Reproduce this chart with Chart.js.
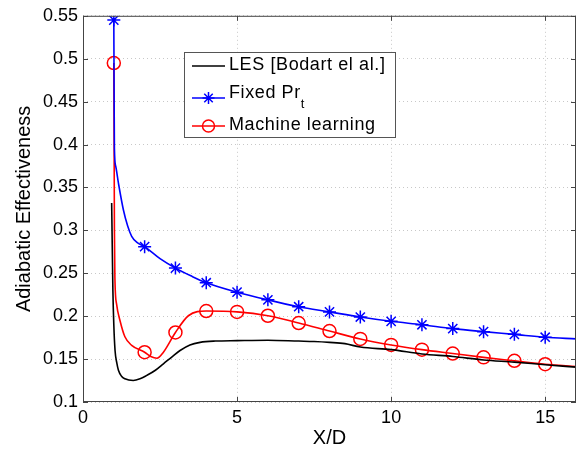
<!DOCTYPE html>
<html>
<head>
<meta charset="utf-8">
<script src="https://cdn.jsdelivr.net/npm/chart.js@4.4.0/dist/chart.umd.min.js"></script>
<style>
  html, body { margin: 0; padding: 0; background: #fff; }
</style>
</head>
<body>
<canvas id="chart" width="584" height="450"></canvas>
<script>
// LES reference curve
const lesX = [0.93, 0.95, 0.97, 1.0, 1.04, 1.1, 1.15, 1.25, 1.36, 1.63, 1.85, 2.07, 2.35, 2.61, 2.9, 3.15, 3.47, 3.8, 4.3, 5, 6, 7, 7.5, 8, 8.5, 9, 10, 11, 12, 13, 14, 15, 16];
const lesY = [0.332, 0.28, 0.23, 0.19, 0.16, 0.145, 0.137, 0.13, 0.127, 0.125, 0.127, 0.131, 0.137, 0.1445, 0.153, 0.16, 0.1665, 0.1695, 0.171, 0.1715, 0.172, 0.171, 0.1705, 0.1695, 0.168, 0.164, 0.161, 0.156, 0.153, 0.149, 0.1465, 0.1434, 0.1406];

// fixed turbulent Prandtl number
const fixX = [1, 1.01, 1.02, 1.06, 1.15, 1.31, 1.45, 1.58, 1.75, 2, 2.5, 3, 3.5, 4, 5, 6, 7, 8, 9, 10, 11, 12, 13, 14, 15, 16];
const fixY = [0.545, 0.46, 0.395, 0.375, 0.355, 0.324, 0.305, 0.293, 0.286, 0.281, 0.267, 0.256, 0.247, 0.239, 0.228, 0.219, 0.211, 0.205, 0.199, 0.194, 0.190, 0.1855, 0.182, 0.1788, 0.1755, 0.1735];

// machine learning model
const mlX = [1, 1.01, 1.02, 1.035, 1.09, 1.2, 1.36, 1.58, 2, 2.2, 2.4, 2.61, 3, 3.42, 4, 5, 6, 7, 8, 9, 10, 11, 12, 13, 14, 15, 16];
const mlY = [0.495, 0.40, 0.30, 0.245, 0.214, 0.195, 0.176, 0.166, 0.158, 0.153, 0.151, 0.158, 0.181, 0.2005, 0.206, 0.205, 0.2005, 0.192, 0.1827, 0.1735, 0.1665, 0.161, 0.1565, 0.152, 0.148, 0.144, 0.1414];

const yTicks = [0.1, 0.15, 0.2, 0.25, 0.3, 0.35, 0.4, 0.45, 0.5, 0.55];
const xTicks = [0, 5, 10, 15];

const FONT = "'Liberation Sans', Arial, Helvetica, sans-serif";

function pts(xs, ys) {
    return xs.map((x, i) => ({ x: x, y: ys[i] }));
}

function markerRadius(r) {
    return (ctx) => {
        const p = ctx.raw;
        return (p && Number.isInteger(p.x) && p.x >= 1 && p.x <= 15) ? r : 0;
    };
}

// box, inward ticks and the legend, drawn like the matlab figure
const figurePlugin = {
    id: 'figure',
    afterDraw(chart) {
        const ctx = chart.ctx;
        const a = chart.chartArea;
        const xs = chart.scales.x, ys = chart.scales.y;
        ctx.save();
        ctx.strokeStyle = '#444';
        ctx.lineWidth = 1;
        ctx.strokeRect(a.left + 0.5, a.top + 0.5, a.right - a.left - 1, a.bottom - a.top - 1);
        ctx.beginPath();
        xTicks.forEach(v => {
            const px = Math.round(xs.getPixelForValue(v)) + 0.5;
            ctx.moveTo(px, a.bottom); ctx.lineTo(px, a.bottom - 5);
            ctx.moveTo(px, a.top); ctx.lineTo(px, a.top + 5);
        });
        yTicks.forEach(v => {
            const py = Math.round(ys.getPixelForValue(v)) + 0.5;
            ctx.moveTo(a.left, py); ctx.lineTo(a.left + 5, py);
            ctx.moveTo(a.right, py); ctx.lineTo(a.right - 5, py);
        });
        ctx.stroke();

        // legend
        const bx = 184, by = 52, bw = 211, bh = 85;
        ctx.fillStyle = '#fff';
        ctx.fillRect(bx, by, bw, bh);
        ctx.strokeStyle = '#555';
        ctx.strokeRect(bx + 0.5, by + 0.5, bw, bh);
        const rows = [66, 98, 126];
        chart.data.datasets.forEach((ds, i) => {
            const y = rows[i];
            ctx.strokeStyle = ds.borderColor;
            ctx.lineWidth = 1.5;
            ctx.beginPath();
            ctx.moveTo(192, y); ctx.lineTo(225, y);
            ctx.stroke();
            if (ds.pointStyle !== false) {
                ctx.fillStyle = 'rgba(0,0,0,0)';
                Chart.helpers.drawPoint(ctx, {
                    pointStyle: ds.pointStyle, radius: 6, borderWidth: 1.5
                }, 208.5, y);
            }
            ctx.fillStyle = '#000';
            ctx.font = '18px ' + FONT;
            ctx.letterSpacing = '0.6px';
            ctx.textBaseline = 'middle';
            ctx.textAlign = 'left';
            if (i === 1) {
                ctx.fillText('Fixed Pr', 229, 93);
                const w = ctx.measureText('Fixed Pr').width;
                ctx.font = '13px ' + FONT;
                ctx.fillText('t', 229 + w, 104);
            } else {
                ctx.fillText(ds.label, 229, y - 1);
            }
        });
        ctx.restore();
    }
};

new Chart(document.getElementById('chart'), {
    type: 'line',
    data: {
        datasets: [
            {
                label: 'LES [Bodart el al.]',
                data: pts(lesX, lesY),
                borderColor: '#000',
                borderWidth: 1.6,
                pointRadius: 0,
                pointStyle: false,
                cubicInterpolationMode: 'monotone'
            },
            {
                label: 'Fixed Pr_t',
                data: pts(fixX, fixY),
                borderColor: '#0000ff',
                backgroundColor: 'transparent',
                borderWidth: 1.6,
                pointStyle: 'star',
                pointRadius: markerRadius(6.5),
                pointBorderWidth: 1.5,
                pointBorderColor: '#0000ff',
                cubicInterpolationMode: 'monotone'
            },
            {
                label: 'Machine learning',
                data: pts(mlX, mlY),
                borderColor: '#ff0000',
                backgroundColor: 'transparent',
                borderWidth: 1.6,
                pointStyle: 'circle',
                pointRadius: markerRadius(6.5),
                pointBorderWidth: 1.5,
                pointBorderColor: '#ff0000',
                pointBackgroundColor: 'transparent',
                cubicInterpolationMode: 'monotone'
            }
        ]
    },
    options: {
        responsive: false,
        animation: false,
        events: [],
        layout: { padding: { top: 13, right: 7, left: 0, bottom: 0 } },
        plugins: {
            legend: { display: false },
            tooltip: { enabled: false }
        },
        scales: {
            x: {
                type: 'linear',
                min: 0,
                max: 16,
                afterBuildTicks: (s) => { s.ticks = xTicks.map(v => ({ value: v })); },
                afterFit: (s) => { s.height = 48; },
                ticks: {
                    color: '#000',
                    font: { family: FONT, size: 18 },
                    padding: 5,
                    maxRotation: 0
                },
                grid: { color: '#c8c8c8', lineWidth: 1, drawTicks: false },
                border: { display: false, dash: [1, 3] },
                title: {
                    display: true,
                    text: 'X/D',
                    color: '#000',
                    font: { family: FONT, size: 20 },
                    padding: { top: 0, bottom: 0 }
                }
            },
            y: {
                type: 'linear',
                min: 0.1,
                max: 0.55,
                afterBuildTicks: (s) => { s.ticks = yTicks.map(v => ({ value: v })); },
                afterFit: (s) => { s.width = 83; },
                ticks: {
                    color: '#000',
                    font: { family: FONT, size: 18 },
                    padding: 5,
                    callback: (v) => String(Math.round(v * 100) / 100)
                },
                grid: { color: '#c8c8c8', lineWidth: 1, drawTicks: false },
                border: { display: false, dash: [1, 3] },
                title: {
                    display: true,
                    text: 'Adiabatic Effectiveness',
                    color: '#000',
                    font: { family: FONT, size: 20 },
                    padding: { top: 12, bottom: 0 }
                }
            }
        }
    },
    plugins: [figurePlugin]
});
</script>
</body>
</html>
